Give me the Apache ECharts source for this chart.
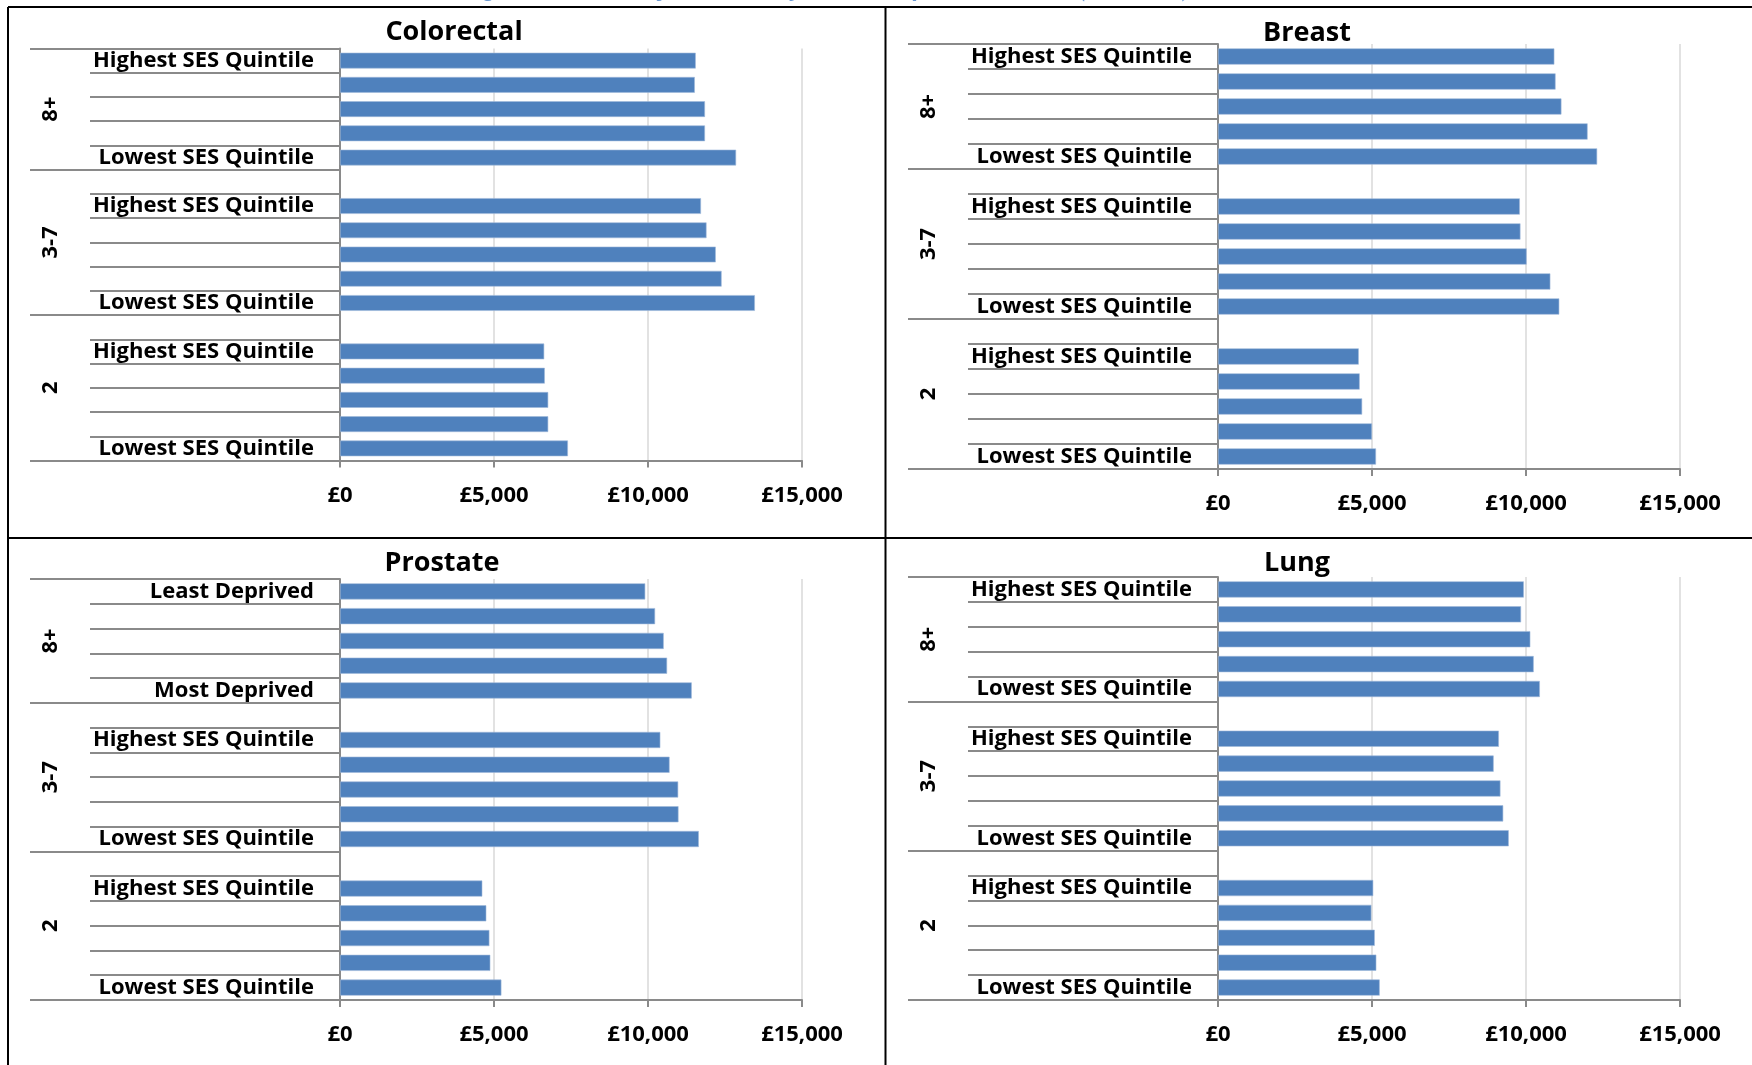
<!DOCTYPE html>
<html><head><meta charset="utf-8">
<script src="https://cdn.jsdelivr.net/npm/echarts@6/dist/echarts.min.js"></script>
<style>html,body{margin:0;padding:0;background:#fff}#c{width:1752px;height:1065px}</style>
</head><body><div id="c"></div>
<script>
// ---------- data ----------
const groupNames = ['8+', '3-7', '2'];
const quintileLabels = ['Highest SES Quintile', '', '', '', 'Lowest SES Quintile'];
const deprivationLabels = ['Least Deprived', '', '', '', 'Most Deprived'];
const xTickValues = [0, 5000, 10000, 15000];
const pageTitle = 'Figure 4: Mean Adjusted Cost by Number of Comorbidities (2, 3-7, 8+) and SES Quintile';

const colorectal8 = [11550, 11520, 11850, 11850, 12860];
const colorectal37 = [11720, 11900, 12200, 12390, 13470];
const colorectal2 = [6630, 6650, 6760, 6760, 7400];

const breast8 = [10920, 10960, 11150, 12000, 12310];
const breast37 = [9800, 9820, 10020, 10790, 11080];
const breast2 = [4570, 4600, 4680, 5000, 5130];

const prostate8 = [9910, 10230, 10510, 10620, 11420];
const prostate37 = [10400, 10700, 10980, 10990, 11650];
const prostate2 = [4620, 4750, 4850, 4880, 5240];

const lung8 = [9930, 9840, 10140, 10250, 10450];
const lung37 = [9120, 8950, 9170, 9260, 9440];
const lung2 = [5040, 4980, 5090, 5140, 5250];

// ---------- panels ----------
const panels = [
  {title: 'Colorectal', labels: [quintileLabels, quintileLabels, quintileLabels], values: [colorectal8, colorectal37, colorectal2]},
  {title: 'Breast', labels: [quintileLabels, quintileLabels, quintileLabels], values: [breast8, breast37, breast2]},
  {title: 'Prostate', labels: [deprivationLabels, quintileLabels, quintileLabels], values: [prostate8, prostate37, prostate2]},
  {title: 'Lung', labels: [quintileLabels, quintileLabels, quintileLabels], values: [lung8, lung37, lung2]}
];
// layout (pixels)
const layouts = [
  {left: 340, top: 48.5, width: 462, height: 412, titleX: 454, titleY: 19},
  {left: 1218, top: 44, width: 462, height: 425, titleX: 1307, titleY: 20},
  {left: 340, top: 579, width: 462, height: 421, titleX: 442, titleY: 550},
  {left: 1218, top: 577, width: 462, height: 423, titleX: 1297, titleY: 550}
];

const FONT = 'Open Sans';
const GRAY = '#8a8a8a';
const innerTickLen = 250;
const outerTickLen = 310;

function buildCategories(labelSets) {
  const out = [];
  labelSets.forEach((s, gi) => { if (gi > 0) out.push(''); s.forEach(l => out.push(l)); });
  return out;
}
function buildValues(sets) {
  const out = [];
  sets.forEach((s, gi) => { if (gi > 0) out.push(null); s.forEach(v => out.push(v)); });
  return out;
}
function groupInfo(sets) {
  const starts = [], centres = [];
  let pos = 0;
  sets.forEach((s, gi) => {
    const size = s.length + (gi > 0 ? 1 : 0);
    starts.push(pos);
    centres.push(pos + size / 2);
    pos += size;
  });
  return {starts, centres, total: pos};
}

const grid = [], xAxis = [], yAxis = [], series = [], title = [];
panels.forEach((p, i) => {
  const L = layouts[i];
  const cats = buildCategories(p.labels);
  const vals = buildValues(p.values);
  const g = groupInfo(p.values);
  grid.push({left: L.left, top: L.top, width: L.width, height: L.height, containLabel: false, outerBoundsMode: 'none'});
  title.push({text: p.title, left: L.titleX, top: L.titleY, textAlign: 'center', padding: 0,
    textStyle: {fontFamily: FONT, fontWeight: 'bold', fontSize: 27, color: '#000'}});
  xAxis.push({
    type: 'value', gridIndex: i, position: 'bottom', min: 0, max: 15000, interval: 5000,
    axisLine: {show: true, onZero: false, lineStyle: {color: GRAY, width: 2}},
    axisTick: {show: true, length: 7, lineStyle: {color: GRAY, width: 2}},
    splitLine: {show: true, lineStyle: {color: '#d9d9d9', width: 1.5}},
    axisLabel: {margin: 24, fontFamily: FONT, fontWeight: 'bold', fontSize: 22, color: '#000',
      formatter: v => '£' + v.toLocaleString('en-GB')}
  });
  // main category axis: labels + inner separators
  yAxis.push({
    type: 'category', gridIndex: i, position: 'left', offset: 0, inverse: true, data: cats,
    axisLine: {show: true, onZero: false, lineStyle: {color: GRAY, width: 2}},
    axisTick: {show: true, interval: 0, length: innerTickLen, lineStyle: {color: GRAY, width: 2}},
    axisLabel: {interval: 0, margin: 26, fontFamily: FONT, fontWeight: 'bold', fontSize: 22, color: '#000'},
    splitLine: {show: false}
  });
  // group separators (long ticks)
  yAxis.push({
    type: 'category', gridIndex: i, position: 'left', offset: 0, inverse: true, data: cats,
    axisLine: {show: false, onZero: false},
    axisTick: {show: true, length: outerTickLen, interval: idx => g.starts.indexOf(idx) >= 0,
      lineStyle: {color: GRAY, width: 2}},
    axisLabel: {show: false}, splitLine: {show: false}
  });
  // group labels
  yAxis.push({
    type: 'value', gridIndex: i, position: 'left', offset: 0, inverse: true, min: 0, max: g.total, interval: 0.5,
    axisLine: {show: false, onZero: false}, axisTick: {show: false}, splitLine: {show: false},
    axisLabel: {show: true, rotate: 90, margin: 289, align: 'center', verticalAlign: 'middle',
      fontFamily: FONT, fontWeight: 'bold', fontSize: 22, color: '#000',
      formatter: v => { const k = g.centres.findIndex(c => Math.abs(c - v) < 1e-6); return k >= 0 ? groupNames[k] : ''; }}
  });
  series.push({
    type: 'bar', xAxisIndex: i, yAxisIndex: i * 3, data: vals,
    barCategoryGap: '35%',
    itemStyle: {color: '#4F81BD', borderColor: '#9fb8da', borderWidth: 0.6},
    silent: true
  });
});

const borderStyle = {stroke: '#000', lineWidth: 2};
const graphic = [
  {type: 'text', x: 920, y: 2, silent: true,
    style: {text: pageTitle, font: 'bold italic 25px "Liberation Serif"', fill: '#6a98d2', align: 'center', verticalAlign: 'bottom'}},
  {type: 'line', shape: {x1: 8, y1: 7, x2: 1752, y2: 7}, style: borderStyle},
  {type: 'line', shape: {x1: 8, y1: 7, x2: 8, y2: 1065}, style: borderStyle},
  {type: 'line', shape: {x1: 885.5, y1: 7, x2: 885.5, y2: 1065}, style: borderStyle},
  {type: 'line', shape: {x1: 8, y1: 538, x2: 1752, y2: 538}, style: borderStyle}
];

const chart = echarts.init(document.getElementById('c'), null, {renderer: 'canvas'});
chart.setOption({animation: false, backgroundColor: '#fff', title, grid, xAxis, yAxis, series, graphic});
</script>
</body></html>
